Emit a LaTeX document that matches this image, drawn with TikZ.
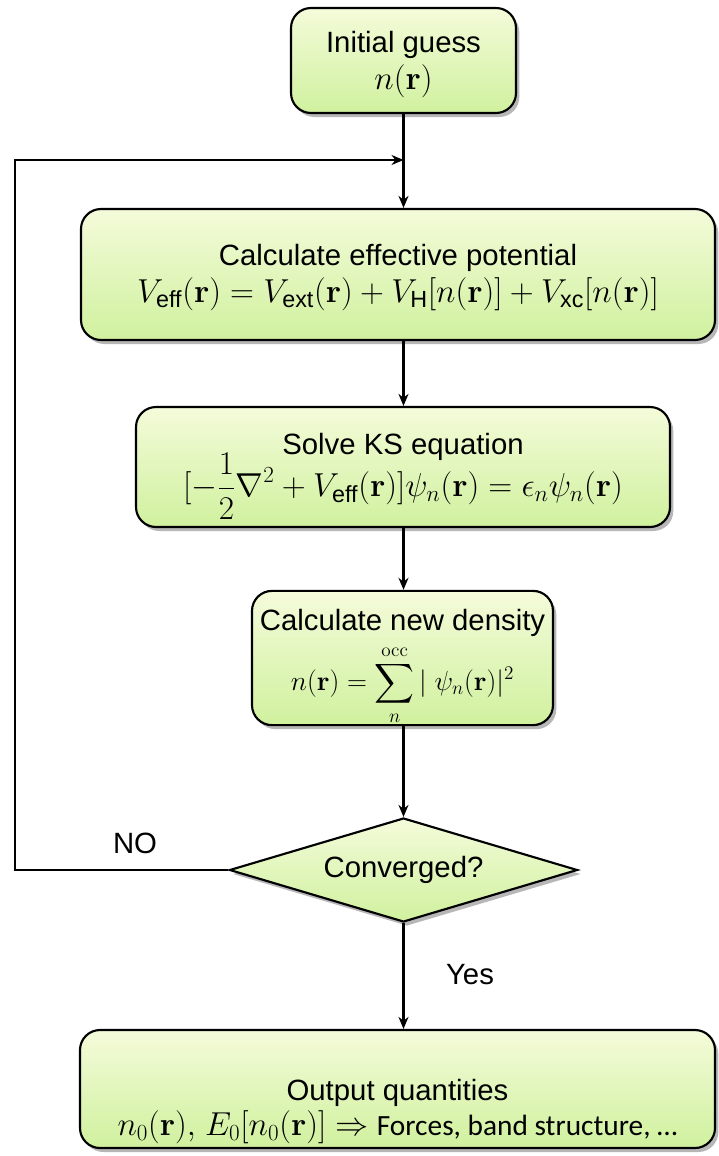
\documentclass[tikz,border=0pt]{standalone}
\usepackage{amsmath}
\usepackage[no-math]{fontspec}
\setmainfont{Liberation Sans}
\newfontfamily\carlito{Carlito}
\usetikzlibrary{shapes.geometric,shadows,arrows.meta}
\definecolor{gtop}{RGB}{244,251,218}
\definecolor{gbot}{RGB}{208,241,158}
\tikzset{
  box/.style={draw=black, line width=1.6pt, rounded corners=15pt,
    top color=gtop, bottom color=gbot,
    drop shadow={shadow xshift=2.5pt, shadow yshift=-3pt, opacity=0.4, fill=black!70},
    align=center, inner sep=0pt, font=\fontsize{22}{28}\selectfont},
  dia/.style={diamond, draw=black, line width=1.6pt, top color=gtop, bottom color=gbot,
    drop shadow={shadow xshift=2.5pt, shadow yshift=-3pt, opacity=0.4, fill=black!70},
    inner sep=0pt, minimum width=261pt, minimum height=78pt, shape aspect=3.4,
    font=\fontsize{22}{26}\selectfont},
  conn/.style={line width=1.6pt, -{Stealth[length=9pt,width=7.5pt]}},
  lbl/.style={font=\fontsize{22}{26}\selectfont, inner sep=0pt}
}
\newcommand{\bfr}{\mathbf{r}}
\newcommand{\mth}[1]{{\fontsize{25}{28}\selectfont$#1$}}
\newcommand{\mths}[1]{{\fontsize{21}{25}\selectfont$#1$}}
\begin{document}
\begin{tikzpicture}[x=0.75pt,y=-0.75pt]
\useasboundingbox[fill=white] (0,0) rectangle (718,1156);

\node[box, minimum width=168.75pt, minimum height=78.75pt] (b1) at (403.5,60.5)
  {\rule{0pt}{22pt}Initial guess\\ \mth{n(\bfr)}};

\node[box, minimum width=475.5pt, minimum height=98.25pt] (b2) at (398,274.5)
  {\rule{0pt}{20pt}Calculate effective potential\\
   \mth{V_{\text{eff}}(\bfr)=V_{\text{ext}}(\bfr)+V_{\text{H}}[n(\bfr)]+V_{\text{xc}}[n(\bfr)]}};

\node[box, minimum width=400.5pt, minimum height=90pt] (b3) at (403,467)
  {\rule{0pt}{30pt}Solve KS equation\\[-7pt]
   \mth{\displaystyle [-\frac{1}{2}\nabla^2+V_{\text{eff}}(\bfr)]\psi_n(\bfr)=\epsilon_n\psi_n(\bfr)}};

\node[box, minimum width=225.75pt, minimum height=96pt] (b4) at (402.5,658)
  {\rule{0pt}{30pt}Calculate new density\\[5pt]
   \mths{\displaystyle n(\bfr)=\sum_{n}^{\mathrm{occ}}|\;\psi_n(\bfr)|^2}};

\node[dia] (d) at (403.5,870) {Converged?};

\node[box, minimum width=476.25pt, minimum height=88.5pt] (b5) at (397.5,1089)
  {\rule{0pt}{50pt}Output quantities\\[-2pt]
   \mth{n_0(\bfr){,}\ E_0[n_0(\bfr)]\Rightarrow} {\carlito Forces, band structure, \dots}};

\coordinate (L) at (15,160);

\draw[conn] (b1.south) -- (b1.south |- b2.north);
\draw[conn] (b1.south |- b2.south) -- (b1.south |- b3.north);
\draw[conn] (b1.south |- b3.south) -- (b1.south |- b4.north);
\draw[conn] (b1.south |- b4.south) -- (d.north);
\draw[conn] (d.south) -- (d.south |- b5.north);
\draw[conn] (d.west) -| (L) -- (L -| b1.south);

\node[lbl] (no) at (135,843) {NO};
\node[lbl] (yes) at (470,975) {Yes};
\end{tikzpicture}
\end{document}
